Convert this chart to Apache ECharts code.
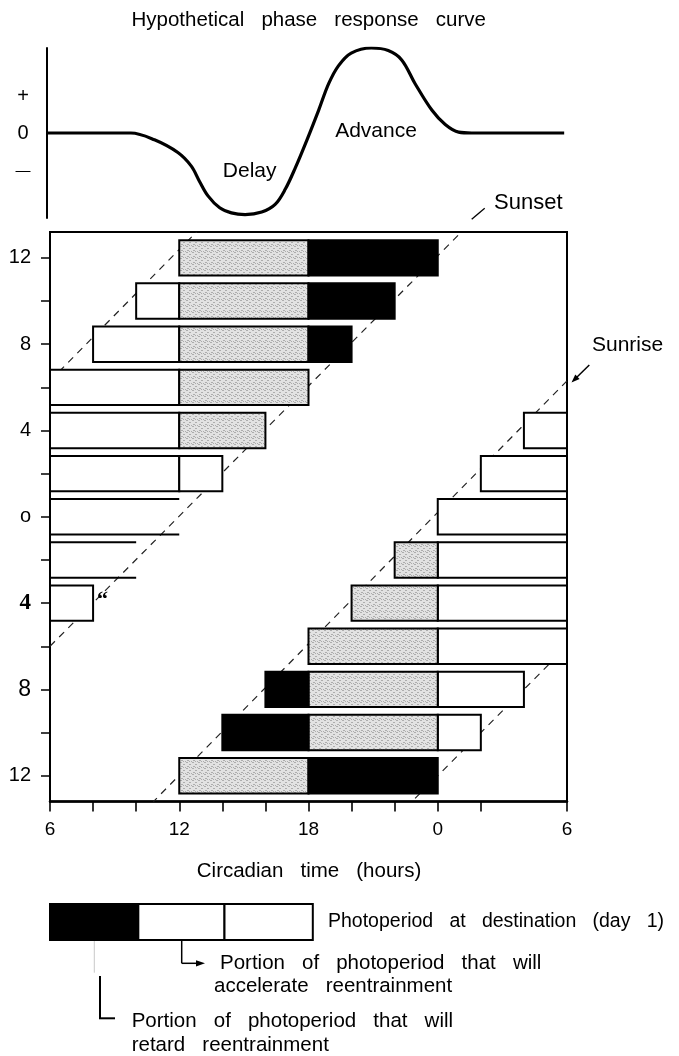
<!DOCTYPE html>
<html>
<head>
<meta charset="utf-8">
<script src="https://cdn.jsdelivr.net/npm/echarts@6/dist/echarts.min.js"></script>
<style>html,body{margin:0;padding:0;background:#fff}#c{width:679px;height:1056px}</style>
</head>
<body>
<div id="c"></div>
<script>
// ---------- data ----------
// Hypothetical phase response curve (circadian hour, relative response)
const prcHours  = [6, 9.87, 10.96, 12.04, 12.66, 13.04, 13.43, 13.97, 14.51, 15.14, 15.91, 16.53, 17.0, 17.46, 18.0, 18.54, 19.0, 19.45, 20.04, 20.97, 21.75, 22.37, 22.99, 23.76, 24.38, 25.0, 25.6, 29.87];
const prcValues = [0, 0, -0.08, -0.23, -0.39, -0.57, -0.74, -0.88, -0.94, -0.96, -0.93, -0.84, -0.66, -0.41, -0.08, 0.27, 0.58, 0.79, 0.94, 1.0, 0.97, 0.86, 0.58, 0.27, 0.10, 0.01, 0, 0];
const prcLabelValues = [0.43, 0, -0.45];

// Time-zone shift rows (hours), photoperiod segments: [shift, startHour, endHour]
const shiftDays = [12, 10, 8, 6, 4, 2, 0, -2, -4, -6, -8, -10, -12];
const whiteSegs = [[10,10,12],[8,8,12],[6,6,12],[4,6,12],[4,28,30],[2,6,12],[2,12,14],[2,26,30],[0,24,30],[-2,24,30],[-4,24,30],[-4,6,8],[-6,24,30],[-8,24,28],[-10,24,26]];
const graySegs  = [[12,12,18],[10,12,18],[8,12,18],[6,12,18],[4,12,16],[-2,22,24],[-4,20,24],[-6,18,24],[-8,18,24],[-10,18,24],[-12,12,18]];
const blackSegs = [[12,18,24],[10,18,22],[8,18,20],[-8,16,18],[-10,14,18],[-12,18,24]];
const openSegs  = [[0,6,12],[-2,6,10]];

// Sunrise / sunset dashed lines [hour, shift]
const sunriseUpper = [[6, 6.3], [12.8, 13.2]];
const sunriseLower = [[30, 6.3], [10.8, -13.2]];
const sunsetUpper  = [[6, -6.0], [25.1, 13.2]];
const sunsetLower  = [[30, -6.0], [22.8, -13.2]];

// Axis ticks / labels
const xTickValues  = [6, 8, 10, 12, 14, 16, 18, 20, 22, 24, 26, 30];
const xLabelValues = [6, 12, 18, 24, 30];
const yLabelValues = [12, 8, 4, 0, -4, -8, -12];

// Legend sample bar [startHour, endHour, kind]
const legendSegs = [[6, 10.1, 2], [10.1, 14.1, 0], [14.1, 18.2, 0]];

// Texts
const titleText = 'Hypothetical phase response curve';
const xNameText = 'Circadian time (hours)';
const legendText = 'Photoperiod at destination (day 1)';
const accelText1 = 'Portion of photoperiod that will';
const accelText2 = 'accelerate reentrainment';
const retardText1 = 'Portion of photoperiod that will';
const retardText2 = 'retard reentrainment';

// ---------- rendering ----------
const FONT = "'Liberation Sans', Arial, Helvetica, sans-serif";
const INK = '#000';
const gap = s => s.split(' ').join('   ');

// stipple texture for the grey segments
const tile = document.createElement('canvas');
tile.width = 6; tile.height = 6;
(function () {
  const g = tile.getContext('2d');
  g.fillStyle = '#e2e2e2'; g.fillRect(0, 0, 6, 6);
  g.fillStyle = '#adadad';
  [[0,0],[1,0],[3,2],[4,2],[1,4],[2,4],[5,5],[3,5]].forEach(p => g.fillRect(p[0], p[1], 1, 1));
})();
const grayFill = { image: tile, repeat: 'repeat' };
const fills = ['#ffffff', grayFill, '#000000'];

const barData = []
  .concat(whiteSegs.map(s => [s[0], s[1], s[2], 0]))
  .concat(graySegs.map(s => [s[0], s[1], s[2], 1]))
  .concat(blackSegs.map(s => [s[0], s[1], s[2], 2]))
  .concat(openSegs.map(s => [s[0], s[1], s[2], 3]));

const BAR_H = 1.64;
function renderBar(params, api) {
  const day = api.value(0), s = api.value(1), e = api.value(2), kind = api.value(3);
  const p0 = api.coord([s, day]), p1 = api.coord([e, day]);
  const h = api.size([0, BAR_H])[1];
  const x = p0[0], w = p1[0] - p0[0], y = p0[1] - h / 2;
  if (kind === 3) {
    return { type: 'group', children: [
      { type: 'line', shape: { x1: x, y1: y, x2: x + w, y2: y }, style: { stroke: '#000', lineWidth: 2 } },
      { type: 'line', shape: { x1: x, y1: y + h, x2: x + w, y2: y + h }, style: { stroke: '#000', lineWidth: 2 } }
    ] };
  }
  return { type: 'rect', shape: { x: x, y: y, width: w, height: h },
           style: { fill: fills[kind], stroke: '#000', lineWidth: 2 } };
}
function renderLegend(params, api) {
  const s = api.value(0), e = api.value(1), kind = api.value(2);
  const p0 = api.coord([s, 1]), p1 = api.coord([e, 0]);
  return { type: 'rect', shape: { x: p0[0], y: p0[1], width: p1[0] - p0[0], height: p1[1] - p0[1] },
           style: { fill: fills[kind], stroke: '#000', lineWidth: 2 } };
}

const dashStyle = { color: '#222', width: 1.2, type: [7, 6] };
function dashSeries(pts) {
  return { type: 'line', xAxisIndex: 1, yAxisIndex: 1, data: pts, showSymbol: false, symbol: 'none',
           lineStyle: dashStyle, silent: true, z: 1, animation: false };
}

function txt(x, y, text, size, align, extra) {
  return Object.assign({ type: 'text', z: 100, style: { x: x, y: y, text: text, fill: INK,
    font: size + 'px ' + FONT, textAlign: align || 'left', textVerticalAlign: 'middle' } }, extra || {});
}
function seg(x1, y1, x2, y2, w, color) {
  return { type: 'line', z: 100, shape: { x1: x1, y1: y1, x2: x2, y2: y2 }, style: { stroke: color || '#000', lineWidth: w || 1.5 } };
}
function tri(points) {
  return { type: 'polygon', z: 100, shape: { points: points }, style: { fill: '#000' } };
}

const chart = echarts.init(document.getElementById('c'), null, { renderer: 'canvas' });
chart.setOption({
  animation: false,
  backgroundColor: '#fff',
  grid: [
    { left: 47, right: 112, top: 48, height: 170 },
    { left: 50, right: 112, top: 232, height: 569.6, show: true, borderColor: '#000', borderWidth: 2, backgroundColor: 'transparent' },
    { left: 50, right: 112, top: 904, height: 36 }
  ],
  xAxis: [
    { gridIndex: 0, type: 'value', min: 6, max: 30, show: false },
    { gridIndex: 1, type: 'value', min: 6, max: 30,
      axisLine: { show: true, onZero: false, lineStyle: { color: '#000', width: 2.5 } },
      axisTick: { show: true, customValues: xTickValues, length: 10, lineStyle: { color: '#000', width: 1.6 } },
      splitLine: { show: false },
      axisLabel: { customValues: xLabelValues, margin: 19, fontSize: 19, color: INK, fontFamily: FONT,
                   formatter: v => String(v % 24) } },
    { gridIndex: 2, type: 'value', min: 6, max: 30, show: false }
  ],
  yAxis: [
    { gridIndex: 0, type: 'value', min: -1, max: 1,
      axisLine: { show: true, onZero: false, lineStyle: { color: '#000', width: 2 } },
      axisTick: { show: false }, splitLine: { show: false },
      axisLabel: { customValues: prcLabelValues, margin: 24, align: 'center', fontSize: 20, color: INK, fontFamily: FONT,
                   formatter: v => v > 0.1 ? '+' : (v < -0.1 ? '{d|—}' : '0'),
                   rich: { d: { fontSize: 15, fontFamily: FONT, color: INK } } } },
    { gridIndex: 1, type: 'value', min: -13.2, max: 13.2,
      axisLine: { show: true, onZero: false, lineStyle: { color: '#000', width: 2 } },
      axisTick: { show: true, customValues: shiftDays, length: 9, lineStyle: { color: '#000', width: 1.5 } },
      splitLine: { show: false },
      axisLabel: { customValues: yLabelValues, margin: 19, fontSize: 20, color: INK, fontFamily: FONT,
                   formatter: v => v === 0 ? '{o|o}' : (v === -4 ? '{b|4}' : (v === -8 ? '{g|8}' : String(Math.abs(v)))),
                   rich: { o: { fontSize: 20, fontFamily: FONT, color: INK },
                           b: { fontSize: 23, fontWeight: 'bold', fontFamily: "'Liberation Serif', 'DejaVu Serif', serif", color: INK },
                           g: { fontSize: 23, fontFamily: FONT, color: INK } } } },
    { gridIndex: 2, type: 'value', min: 0, max: 1, show: false }
  ],
  series: [
    { type: 'line', xAxisIndex: 0, yAxisIndex: 0, data: prcHours.map((h, i) => [h, prcValues[i]]),
      smooth: 0.35, showSymbol: false, symbol: 'none',
      lineStyle: { color: '#000', width: 3.2 }, z: 2 },
    dashSeries(sunriseUpper), dashSeries(sunriseLower), dashSeries(sunsetUpper), dashSeries(sunsetLower),
    { type: 'custom', xAxisIndex: 1, yAxisIndex: 1, data: barData, renderItem: renderBar,
      encode: { x: [1, 2], y: 0 }, z: 3, clip: false },
    { type: 'custom', xAxisIndex: 2, yAxisIndex: 2, data: legendSegs, renderItem: renderLegend,
      encode: { x: [0, 1] }, z: 3, clip: false }
  ],
  graphic: [
    txt(308.7, 20, gap(titleText), 20.5, 'center'),
    txt(249.7, 171.7, 'Delay', 21, 'center'),
    txt(376, 131.7, 'Advance', 21, 'center'),
    txt(494, 203.3, 'Sunset', 22, 'left'),
    seg(471.7, 219.3, 484.7, 208.3, 1.3),
    txt(592, 345, 'Sunrise', 21, 'left'),
    seg(589.3, 365, 574, 380, 1.5),
    tri([[571.5, 382.6], [579.6, 378.9], [575.3, 374.5]]),
    { type: 'text', z: 100, style: { x: 97, y: 600, text: '“', fill: INK, font: "bold 22px 'Liberation Serif', serif", textAlign: 'left', textVerticalAlign: 'middle' } },
    txt(309, 871, gap(xNameText), 20.5, 'center'),
    txt(328, 921.7, gap(legendText), 19.5, 'left'),
    seg(181.7, 940, 181.7, 963.3, 1.5),
    seg(181.7, 963.3, 197, 963.3, 1.5),
    tri([[205, 963.3], [196, 960.2], [196, 966.4]]),
    txt(220, 963, gap(accelText1), 20.5, 'left'),
    txt(214, 986.7, gap(accelText2), 20.5, 'left'),
    seg(94.3, 941, 94.3, 972.7, 1, '#c8c8c8'),
    seg(100, 976, 100, 1018.3, 2),
    seg(99, 1018.3, 115, 1018.3, 2),
    txt(131.7, 1021.7, gap(retardText1), 20.5, 'left'),
    txt(131.7, 1045, gap(retardText2), 20.5, 'left')
  ]
});
</script>
</body>
</html>
